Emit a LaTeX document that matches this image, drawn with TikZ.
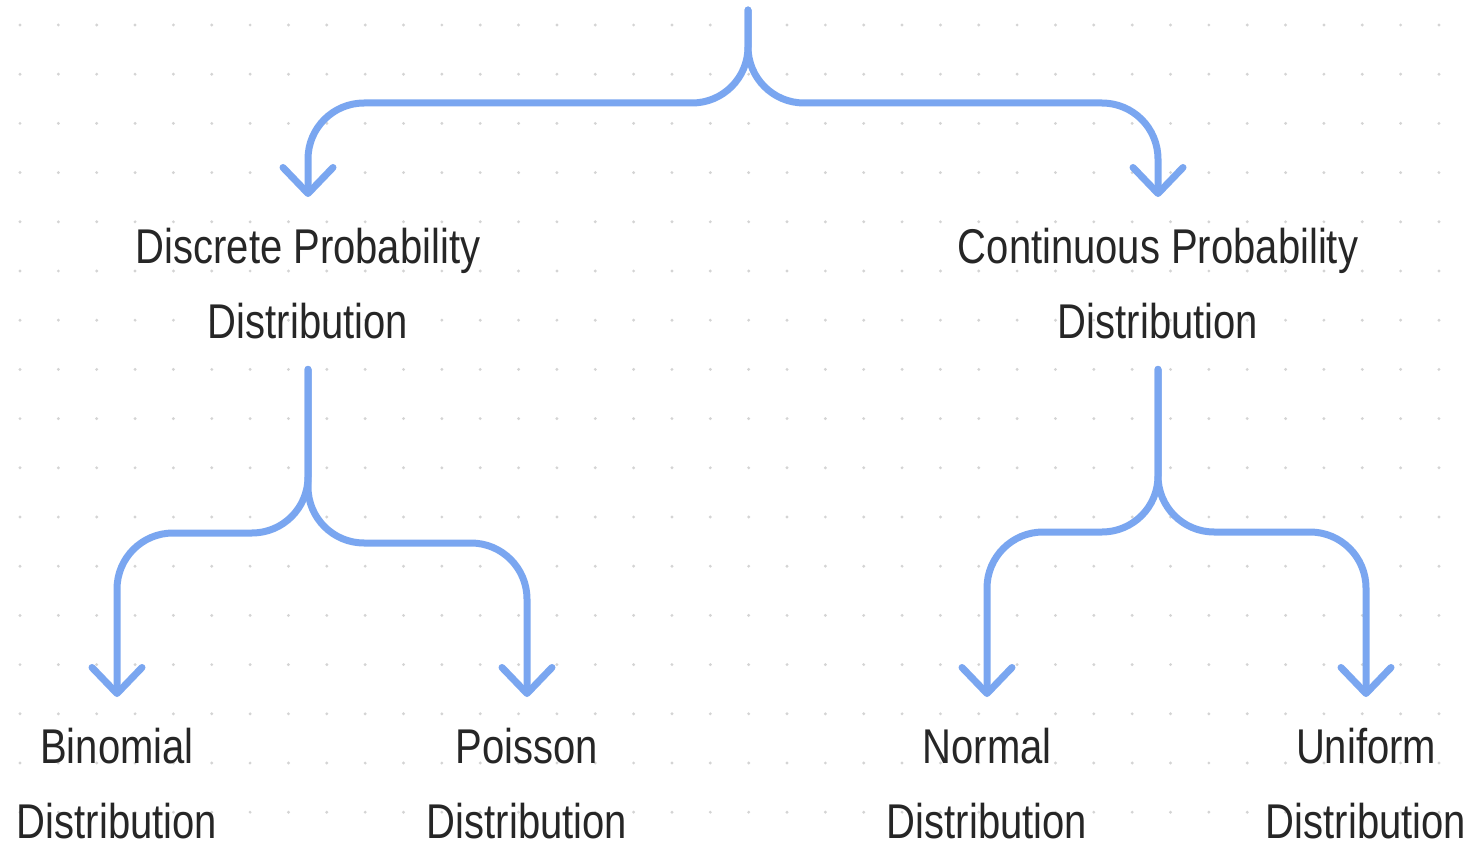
\documentclass[tikz,border=0pt]{standalone}
\usepackage{fontspec}
\setmainfont{Liberation Sans}
\usepackage{xcolor}
\usepackage{tikz}
\usetikzlibrary{arrows.meta}
\definecolor{linkblue}{RGB}{122,166,240}
\definecolor{dotgrey}{RGB}{212,212,212}
\definecolor{inkgrey}{RGB}{38,38,38}
\tikzset{
  lbl/.style={inner xsep=0pt,inner ysep=25pt,align=center,text=inkgrey,
              font=\fontsize{40}{61.5}\selectfont,yscale=1.22},
  conn/.style={-{Straight Barb[length=26pt,width=50pt,round]},line width=7pt,
               color=linkblue,rounded corners=56pt,line cap=round},
  gdot/.style={fill=dotgrey},
}

\begin{document}
\begin{tikzpicture}[x=1pt,y=-1pt]
  \useasboundingbox[fill=white] (0,0) rectangle (1474,842);

  % --- dotted paper ---
  \foreach \i in {0,...,37}
    \foreach \j in {0,...,16}
      \fill[gdot] (20+\i*38.35,25+\j*49.2) circle (1.6pt);

  % --- labels ---
  \node[lbl,anchor=north] (disc) at (308,197) {Discrete Probability\\Distribution};
  \node[lbl,anchor=north] (cont) at (1158,197) {Continuous Probability\\Distribution};

  \node[lbl,anchor=north] (bino) at (117,697) {Binomial\\Distribution};
  \node[lbl,anchor=north] (pois) at (527,697) {Poisson\\Distribution};
  \node[lbl,anchor=north] (norm) at (987,697) {Normal\\Distribution};
  \node[lbl,anchor=north] (unif) at (1366,697) {Uniform\\Distribution};

  % --- split points ---
  \coordinate (root) at (748,10);
  \coordinate (bartop) at (0,103);
  \coordinate (barll) at (0,533);
  \coordinate (barlr) at (0,543);
  \coordinate (barr) at (0,532);

  % --- top split ---
  \draw[conn] (root) |- (disc.north |- bartop) -- (disc.north);
  \draw[conn] (root) |- (cont.north |- bartop) -- (cont.north);

  % --- discrete ---
  \draw[conn] (disc.south) |- (bino.north |- barll) -- (bino.north);
  \draw[conn] (disc.south) |- (pois.north |- barlr) -- (pois.north);

  % --- continuous ---
  \draw[conn] (cont.south) |- (norm.north |- barr) -- (norm.north);
  \draw[conn] (cont.south) |- (unif.north |- barr) -- (unif.north);
\end{tikzpicture}
\end{document}
